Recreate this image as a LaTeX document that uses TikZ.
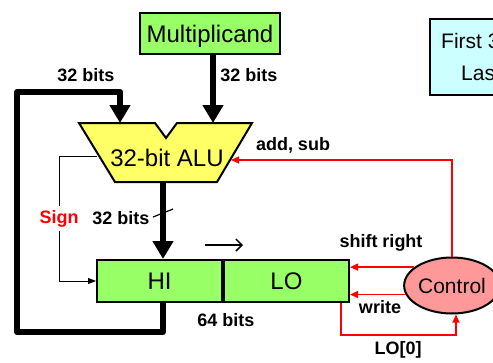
\documentclass[tikz,border=0pt]{standalone}
\usepackage{fontspec}
\setmainfont{Liberation Sans}
\usetikzlibrary{calc,shapes.geometric,arrows.meta}

\definecolor{reggreen}{HTML}{99FF66}
\definecolor{aluyellow}{HTML}{FFFF66}
\definecolor{ctrlpink}{HTML}{FF9999}
\definecolor{notecyan}{HTML}{CCFFFF}

\begin{document}
\begin{tikzpicture}[x=1pt,y=-1pt,
    reg/.style={draw, line width=2pt, fill=reggreen, minimum height=42pt, inner sep=0pt, text depth=0pt, font=\fontsize{24}{24}\selectfont},
    lbl/.style={font=\bfseries\fontsize{18}{18}\selectfont, inner sep=0pt},
    bus/.style={line width=6pt, line join=round, -{Triangle[length=18pt,width=20pt]}},
    sig/.style={red, line width=1.2pt, -{Triangle[length=8pt,width=7pt]}}]

        \useasboundingbox (0,0) rectangle (493,362);
        \clip (0,0) rectangle (493,362);

        % ALU corners
        \coordinate (A) at (79,123);
        \coordinate (B) at (155,123);
        \coordinate (N) at (166,138);
        \coordinate (C) at (177,123);
        \coordinate (D) at (252,123);
        \coordinate (E) at (217,182);
        \coordinate (F) at (115,182);

        \coordinate (alul) at (120,123);
        \coordinate (alur) at (213,123);
        \coordinate (aluout) at (163,182);
        \coordinate (signout) at (97,156);
        \coordinate (aluctl) at (231,160);

        \draw[line width=2pt, fill=aluyellow] (A) -- (B) -- (N) -- (C) -- (D) -- (E) -- (F) -- cycle;
        \node[font=\fontsize{24}{24}\selectfont, inner sep=0pt] (alu) at (167,158) {32-bit ALU};

        \node[reg, minimum width=140pt, minimum height=41pt] (mcand) at (210,33.5) {Multiplicand};
        \node[reg, minimum width=125pt] (hi) at (159.5,281) {HI};
        \node[reg, minimum width=125pt, anchor=west] (lo) at (hi.east) {LO};
        \node[ellipse, draw, line width=2pt, fill=ctrlpink, minimum width=88pt, minimum height=56pt,
              inner sep=0pt, font=\fontsize{21}{21}\selectfont] (ctrl) at (452,285.5) {Control};

        % note box, cut at the right edge
        \node[draw, line width=2pt, fill=notecyan, minimum width=140pt, minimum height=76pt, anchor=north west] (note) at (429,18) {};
        \node[anchor=base west, inner sep=0pt, font=\fontsize{21}{21}\selectfont] (first) at (441,48) {First 3};
        \node[anchor=base west, inner sep=0pt, font=\fontsize{21}{21}\selectfont] (last) at (461,80) {Las};

        % buses
        \draw[bus] (mcand.south -| alur) -- (alur);
        \draw[bus] (aluout) -- (aluout |- hi.north);
        \draw[bus] (aluout |- hi.south) -- ++(0,29) -| (17,92) -| (alul);
        \draw[line width=1.2pt] ($(aluout)+(-10,35)$) -- ++(20,-8);

        % sign bit
        \node[lbl, red, inner sep=4pt] (sign) at (59,218.5) {Sign};
        \draw[line width=0.8pt] (signout) -| (sign.north);
        \draw[line width=0.8pt, -{Triangle[length=8pt,width=6pt]}] (sign.south) |- (hi.west);

        % control signals
        \draw[sig] (ctrl.north) |- (aluctl);
        \draw[sig] (ctrl.154) -- (ctrl.154 -| lo.east);
        \draw[sig] (ctrl.191) -- (ctrl.191 -| lo.east);
        \draw[sig] ([xshift=54.5pt]lo.south) -- ++(0,32) -| ([xshift=4pt]ctrl.south);

        % shift direction
        \coordinate (shl) at (205,245);
        \coordinate (shr) at (243,245);
        \draw[line width=1.5pt, -{Straight Barb[length=6pt,width=12pt]}] (shl) -- (shr);

        \node[lbl] (bitsl) at (86,75) {32 bits};
        \node[lbl] (bitsr) at (249,75) {32 bits};
        \node[lbl] (addsub) at (293,145) {add, sub};
        \node[lbl] (bitsm) at (121,218) {32 bits};
        \node[lbl] (shiftr) at (381,243) {shift right};
        \node[lbl] (wr) at (380,307.5) {write};
        \node[lbl] (bits64) at (226,320) {64 bits};
        \node[lbl] (lobit) at (398,350) {LO[0]};
    \end{tikzpicture}
\end{document}
